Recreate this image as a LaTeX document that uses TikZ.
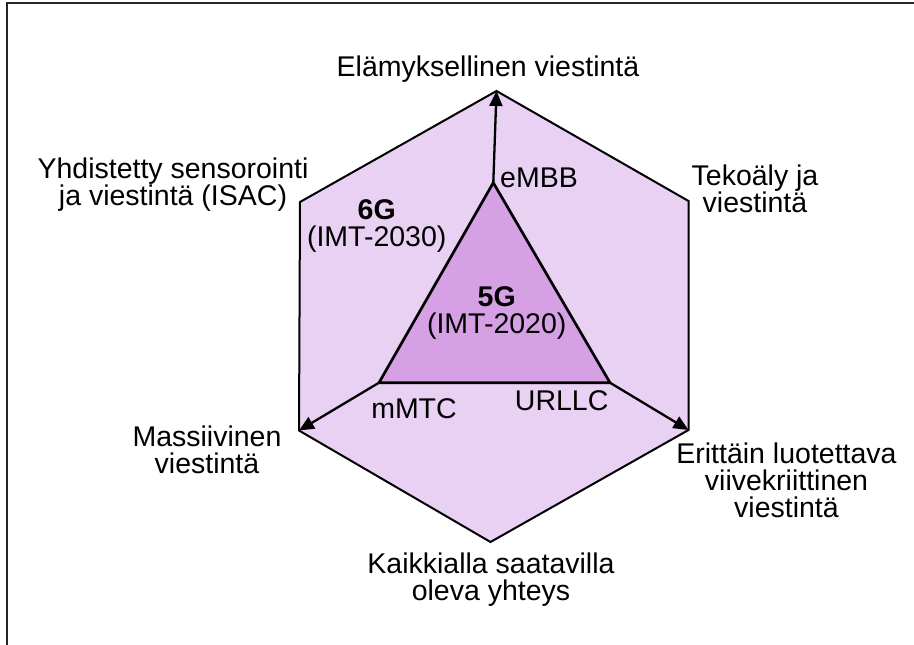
\documentclass[tikz,border=0pt]{standalone}
\usepackage{fontspec}
\setmainfont{Liberation Sans}
\usetikzlibrary{arrows.meta}
\definecolor{hexfill}{RGB}{232,209,242}
\definecolor{trifill}{RGB}{214,161,228}
\tikzset{
  lbl/.style={inner sep=0pt, align=center, font=\fontsize{28.5}{27}\selectfont},
  hexline/.style={draw=black, line width=2pt, line join=miter, fill=hexfill},
  triline/.style={draw=black, line width=2.7pt, line join=miter, fill=trifill},
  arr/.style={line width=2.3pt, -{Triangle[length=15pt,width=13pt]}},
  frameline/.style={line width=1.2pt, draw=black!85}
}
\begin{document}
\begin{tikzpicture}[x=1pt,y=-1pt]
\useasboundingbox (0,0) rectangle (914,645);
% frame
\coordinate (fr1) at (914,3);
\coordinate (fr2) at (7,3);
\coordinate (fr3) at (7,645);
\draw[frameline] (fr1) -- (fr2) -- (fr3);
% hexagon vertices
\coordinate (ht) at (496.5,91);
\coordinate (hur) at (688.5,201);
\coordinate (hlr) at (688.5,430);
\coordinate (hb) at (490.5,542);
\coordinate (hll) at (299,430.5);
\coordinate (hul) at (300,202);
\draw[hexline] (ht) -- (hur) -- (hlr) -- (hb) -- (hll) -- (hul) -- cycle;
% triangle vertices
\coordinate (ta) at (493.3,182.7);
\coordinate (tl) at (379,382.7);
\coordinate (tr) at (610,382.7);
\draw[triline] (ta) -- (tr) -- (tl) -- cycle;
% arrows
\draw[arr] (ta) -- (ht);
\draw[arr] (tl) -- (hll);
\draw[arr] (tr) -- (hlr);
% labels
\node[lbl, anchor=north] (elam) at (488,55.6) {Elämyksellinen viestintä};
\node[lbl, anchor=north] (isac) at (173,157.6) {Yhdistetty sensorointi\\ja viestintä (ISAC)};
\node[lbl, anchor=north] (ai) at (755,164.6) {Tekoäly ja\\viestintä};
\node[lbl, anchor=north] (g6) at (376.7,199) {\bfseries 6G\\(IMT-2030)};
\node[lbl, anchor=north] (g5) at (496.7,286.3) {\bfseries 5G\\(IMT-2020)};
\node[lbl, anchor=base west] (embb) at (500,187) {eMBB};
\node[lbl, anchor=base] (mmtc) at (414,418.3) {mMTC};
\node[lbl, anchor=base] (urllc) at (561.7,410) {URLLC};
\node[lbl, anchor=north] (mass) at (207,425.6) {Massiivinen\\viestintä};
\node[lbl, anchor=north] (reli) at (786.5,442.6) {Erittäin luotettava\\viivekriittinen\\viestintä};
\node[lbl, anchor=north] (ubiq) at (491,552.6) {Kaikkialla saatavilla\\oleva yhteys};
\end{tikzpicture}
\end{document}
